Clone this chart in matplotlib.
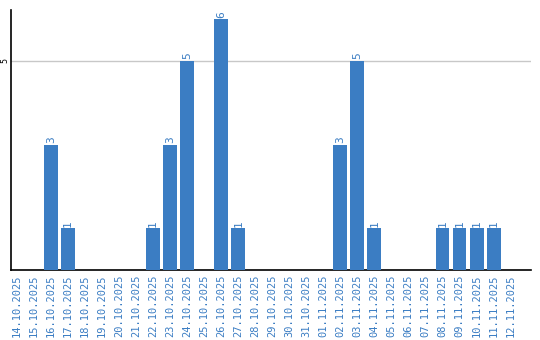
import matplotlib
matplotlib.use("Agg")
import matplotlib.pyplot as plt
import numpy as np

# daily counts
dates = ["14.10.2025", "15.10.2025", "16.10.2025", "17.10.2025", "18.10.2025",
         "19.10.2025", "20.10.2025", "21.10.2025", "22.10.2025", "23.10.2025",
         "24.10.2025", "25.10.2025", "26.10.2025", "27.10.2025", "28.10.2025",
         "29.10.2025", "30.10.2025", "31.10.2025", "01.11.2025", "02.11.2025",
         "03.11.2025", "04.11.2025", "05.11.2025", "06.11.2025", "07.11.2025",
         "08.11.2025", "09.11.2025", "10.11.2025", "11.11.2025", "12.11.2025"]
counts = [0, 0, 3, 1, 0, 0, 0, 0, 1, 3, 5, 0, 6, 1, 0,
          0, 0, 0, 0, 3, 5, 1, 0, 0, 0, 1, 1, 1, 1, 0]
yticks = [5]

blue = "#3b7dc3"
mono = "DejaVu Sans Mono"

fig = plt.figure(figsize=(5.4, 3.4), dpi=100)
ax = fig.add_axes([11 / 540, 70 / 340, 520 / 540, 260 / 340])

x = np.arange(len(dates))
ax.bar(x, counts, width=0.82, color=blue, zorder=3)

for xi, c in zip(x, counts):
    if c > 0:
        ax.text(xi, c + 0.04, str(c), rotation=90, ha="center", va="bottom",
                color=blue, fontsize=8, family=mono)

ax.set_xlim(-0.35, 30.2)
ax.set_ylim(0, 6.22)
ax.set_xticks(x)
ax.set_xticklabels(dates, rotation=90, color=blue, fontsize=7.5, family=mono)
ax.set_yticks(yticks)
ax.set_yticklabels([str(v) for v in yticks], rotation=90, va="center",
                   fontsize=6, family=mono)
ax.tick_params(axis="x", length=0, pad=3)
ax.tick_params(axis="y", length=0, pad=1.5)
ax.yaxis.grid(True, color="#c8c8c8", lw=1, zorder=0)

for s in ["top", "right"]:
    ax.spines[s].set_visible(False)
for s in ["left", "bottom"]:
    ax.spines[s].set_color("black")
    ax.spines[s].set_linewidth(1.2)

fig.savefig("out.png", dpi=100)
